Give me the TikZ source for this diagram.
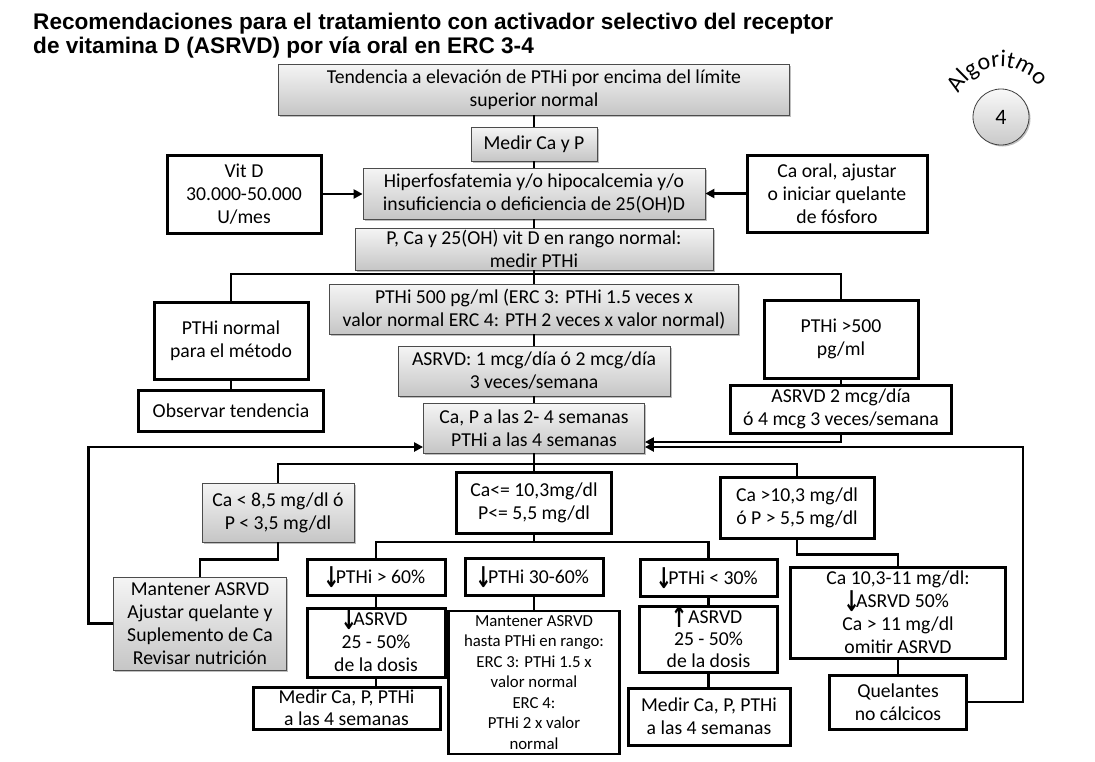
\documentclass[tikz,border=0pt]{standalone}
\usepackage{fontspec}
\usepackage{graphicx}
\setmainfont{Carlito}
\newfontfamily\titlefont{Liberation Sans}
\newfontfamily\symfont{DejaVu Sans}
\usetikzlibrary{arrows.meta,shadows,decorations.text,calc}
\newcommand\dnarr{\makebox[9pt][c]{\raisebox{-4pt}[0pt][0pt]{\scalebox{0.9}[1.3]{\fontsize{22}{22}\selectfont\symfont\bfseries ↓}}}}
\newcommand\uparr{\makebox[9pt][c]{\raisebox{-4pt}[0pt][0pt]{\scalebox{0.9}[1.3]{\fontsize{22}{22}\selectfont\symfont\bfseries ↑}}}}
\begin{document}
\begin{tikzpicture}[x=1pt,y=-1pt,
  txt/.style={align=center, font=\fontsize{19.7}{23}\selectfont, inner sep=1pt},
  gbox/.style={txt, draw=black!70, line width=0.8pt, top color=gray!8, bottom color=gray!45,
     drop shadow={shadow xshift=1.5pt, shadow yshift=-1.5pt, opacity=0.25, fill=black}},
  wbox/.style={txt, draw=black, line width=3pt, fill=white},
  conn/.style={line width=2.8pt},
  arr/.style={conn, -{Triangle[length=9pt,width=9pt]}},
  ttl/.style={anchor=base west, inner sep=0, font=\titlefont\bfseries\fontsize{22.6}{26}\selectfont}]
\useasboundingbox[fill=white] (0,0) rectangle (1095,761);

% title
\node[ttl] (t1) at (33,29) {Recomendaciones para el tratamiento con activador selectivo del receptor};
\node[ttl] (t2) at (33,53) {de vitamina D (ASRVD) por vía oral en ERC 3-4};

% algoritmo badge
\node[circle, minimum size=56pt, draw=black!75, line width=0.8pt, top color=gray!5, bottom color=gray!42,
  drop shadow={shadow xshift=1.5pt, shadow yshift=-1.5pt, opacity=0.25, fill=black},
  font=\fontsize{22}{22}\selectfont] (alg) at (1001,117) {4};
\coordinate (arcc) at (1001,113);
\path[decorate, decoration={text along path, text={|\fontsize{24}{24}\selectfont|Algoritmo}, text align=center}]
  ([shift={(165:46pt)}]arcc) arc[start angle=165, end angle=25, radius=46pt];

% central column
\node[gbox, minimum width=511pt, minimum height=51pt] (top) at (534,89.5) {Tendencia a elevación de PTHi por encima del límite\\superior normal};
\node[gbox, minimum width=126pt, minimum height=34pt] (medir) at (534,144) {Medir Ca y P};
\node[gbox, minimum width=342pt, minimum height=51pt] (hiper) at (534,193.5) {Hiperfosfatemia y/o hipocalcemia y/o\\insuficiencia o deficiencia de 25(OH)D};
\node[gbox, minimum width=358pt, minimum height=42pt] (pca) at (534,249) {P, Ca y 25(OH) vit D en rango normal:\\medir PTHi};
\node[gbox, minimum width=409pt, minimum height=50pt] (pth500) at (534,309) {PTHi 500 pg/ml (ERC 3: PTHi 1.5 veces x\\valor normal ERC 4: PTH 2 veces x valor normal)};
\node[gbox, minimum width=272pt, minimum height=50pt] (asrvd1) at (534,371) {ASRVD: 1 mcg/día ó 2 mcg/día\\3 veces/semana};
\node[gbox, minimum width=221pt, minimum height=50pt] (capa) at (534,428) {Ca, P a las 2- 4 semanas\\PTHi a las 4 semanas};

% side boxes upper
\node[wbox, minimum width=154pt, minimum height=78pt] (vitd) at (244,194) {Vit D\\30.000-50.000\\U/mes};
\node[wbox, minimum width=180pt, minimum height=77pt] (caoral) at (837,193.5) {Ca oral, ajustar\\o iniciar quelante\\de fósforo};
\node[wbox, minimum width=154pt, minimum height=77pt] (pthnorm) at (231,340.5) {PTHi normal\\para el método};
\node[wbox, minimum width=185pt, minimum height=41pt] (observar) at (231,410.5) {Observar tendencia};
\node[wbox, minimum width=154pt, minimum height=78pt] (pthhigh) at (841,339) {PTHi >500\\pg/ml};
\node[wbox, minimum width=221pt, minimum height=48pt] (asrvd2) at (841,409) {ASRVD 2 mcg/día\\ó 4 mcg 3 veces/semana};

% lower part
\node[gbox, minimum width=152pt, minimum height=59pt] (calow) at (278,512.5) {Ca < 8,5 mg/dl ó\\P < 3,5 mg/dl};
\node[gbox, minimum width=173pt, minimum height=93pt] (mantL) at (200,623.5) {Mantener ASRVD\\Ajustar quelante y\\Suplemento de Ca\\Revisar nutrición};
\node[wbox, minimum width=155pt, minimum height=61pt] (caeq) at (534,502.5) {Ca<= 10,3mg/dl\\P<= 5,5 mg/dl};
\node[wbox, minimum width=154pt, minimum height=61pt] (cahigh) at (797,507.5) {Ca >10,3 mg/dl\\ó P > 5,5 mg/dl};

\node[wbox, minimum width=138pt, minimum height=36pt] (p60) at (376,577) {\dnarr PTHi > 60\%};
\node[wbox, minimum width=138pt, minimum height=69pt] (asrvdA) at (376,642.5) {\dnarr ASRVD\\25 - 50\%\\de la dosis};
\node[wbox, minimum width=187pt, minimum height=42pt, inner sep=0pt, font=\fontsize{19.7}{22}\selectfont] (medirL) at (346.5,708) {Medir Ca, P, PTHi\\a las 4 semanas};

\node[wbox, minimum width=138pt, minimum height=37pt] (p3060) at (534,576.5) {\dnarr PTHi 30-60\%};
\node[wbox, line width=2.6pt, minimum width=171pt, minimum height=143pt, font=\fontsize{16.8}{20.5}\selectfont] (mantC) at (534,682.5) {Mantener ASRVD\\hasta PTHi en rango:\\ERC 3: PTHi 1.5 x\\valor normal\\ERC 4:\\PTHi 2 x valor\\normal};

\node[wbox, minimum width=137pt, minimum height=37pt] (p30) at (708.5,577.5) {\dnarr PTHi < 30\%};
\node[wbox, minimum width=138pt, minimum height=66pt, inner sep=0pt, font=\fontsize{19.7}{22}\selectfont] (asrvdB) at (708.5,639) {\uparr\ ASRVD\\25 - 50\%\\de la dosis};
\node[wbox, minimum width=162pt, minimum height=57pt] (medirR) at (709,716.5) {Medir Ca, P, PTHi\\a las 4 semanas};

\node[wbox, minimum width=215pt, minimum height=91pt] (ca1011) at (898,612.5) {Ca 10,3-11 mg/dl:\\\dnarr ASRVD 50\%\\Ca > 11 mg/dl\\omitir ASRVD};
\node[wbox, minimum width=137pt, minimum height=54pt] (quel) at (898,702) {Quelantes\\no cálcicos};

% branch levels
\coordinate (b1) at (534,274);
\coordinate (b2) at (534,464);
\coordinate (b3) at (534,542);

% connectors: spine
\draw[conn] (top) -- (medir);
\draw[conn] (medir) -- (hiper);
\draw[conn] (hiper) -- (pca);
\draw[conn] (pca) -- (pth500);
\draw[conn] (pth500) -- (asrvd1);
\draw[conn] (asrvd1) -- (capa);
\draw[conn] (capa) -- (caeq);
\draw[conn] (caeq) -- (caeq.south |- b3);
\draw[conn] (p3060) -- (mantC);

% side arrows
\draw[arr] (vitd.east) -- (vitd.east -| hiper.west);
\draw[arr] (caoral.west) -- (caoral.west -| hiper.east);

% first branch
\draw[conn] (pthnorm.north) -- (pthnorm.north |- b1) -- (pthhigh.north |- b1) -- (pthhigh.north);
\draw[conn] (pthnorm) -- (observar);
\draw[conn] (pthhigh) -- (asrvd2);
\draw[arr] (asrvd2.south) |- ([yshift=-14pt]capa.east);

% second branch
\draw[conn] (calow.north) -- (calow.north |- b2) -- (cahigh.north |- b2) -- (cahigh.north);
\draw[conn] (calow.south) -- ++(0,17) -| (mantL.north);
\draw[arr] (mantL.west) -- ++(-25,0) |- ([yshift=-19pt]capa.west);
\draw[conn] (cahigh.south) -- ++(0,15) -| (ca1011.north);
\draw[conn] (ca1011) -- (quel);
\draw[arr] (quel.east) -- ++(55,0) |- ([yshift=-19pt]capa.east);

% third branch
\draw[conn] (p60.north) -- (p60.north |- b3) -- (p30.north |- b3) -- (p30.north);
\draw[conn] (p60) -- (asrvdA);
\draw[conn] (asrvdA.south) -- (asrvdA.south |- medirL.north);
\draw[conn] (p30) -- (asrvdB);
\draw[conn] (asrvdB.south) -- (asrvdB.south |- medirR.north);
\end{tikzpicture}
\end{document}
